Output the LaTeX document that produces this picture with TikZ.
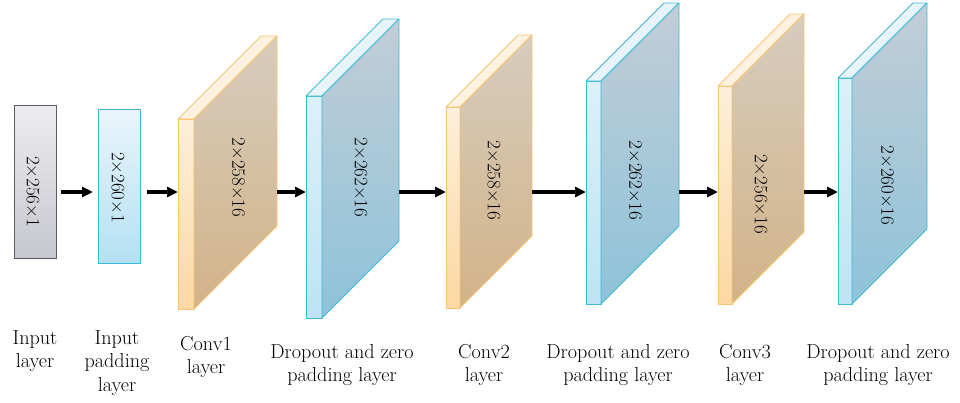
\documentclass[tikz,border=0pt]{standalone}
\usepackage{fontspec}
\usetikzlibrary{arrows.meta}
\definecolor{grayedge}{HTML}{5E5E62}
\definecolor{graytop}{HTML}{EDEDF0}
\definecolor{graybot}{HTML}{C6C6CE}
\definecolor{cyanedge}{HTML}{3CB9D3}
\definecolor{padtop}{HTML}{EAF5FB}
\definecolor{padbot}{HTML}{B4E0F2}
\definecolor{orgedge}{HTML}{F8C470}
\definecolor{orgstripT}{HTML}{FDEFDA}
\definecolor{orgstripB}{HTML}{FCD8A2}
\definecolor{orgtopface}{HTML}{FDF2E0}
\definecolor{orgsideT}{HTML}{D7CCBE}
\definecolor{orgsideB}{HTML}{D2B388}
\definecolor{bluestripT}{HTML}{DCF0F9}
\definecolor{bluestripB}{HTML}{BEE3F4}
\definecolor{bluetopface}{HTML}{E8F4FA}
\definecolor{bluesideT}{HTML}{C2CDD8}
\definecolor{bluesideB}{HTML}{8EC3D9}
\tikzset{
  conn/.style={line width=3.2pt,-{Triangle[length=11pt,width=10pt]},shorten >=0pt},
  dimtext/.style={rotate=-90,inner sep=0pt,font=\fontsize{19}{20}\selectfont},
  lbl/.style={anchor=north,inner sep=0pt,align=center,font=\fontsize{20.2}{23.5}\selectfont},
  flatbox/.style={line width=0.9pt},
}
% #1 prefix (org/blue), #2 edge colour, #3 xl, #4 xr, #5 top, #6 bottom, #7 depth, #8 name
\newcommand\slabshape[8]{%
  \path[draw=#2,line width=0.9pt,line join=round,top color=#1stripT,bottom color=#1stripB]
    (#3,#5) rectangle (#4,#6);
  \path[draw=#2,line width=0.9pt,line join=round,fill=#1topface]
    (#3,#5) -- (#4,#5) -- (#4+#7,#5-#7) -- (#3+#7,#5-#7) -- cycle;
  \path[draw=#2,line width=0.9pt,line join=round,top color=#1sideT,bottom color=#1sideB]
    (#4,#5) -- (#4+#7,#5-#7) -- (#4+#7,#6-#7) -- (#4,#6) -- cycle;
  \coordinate (#8-in) at (#3,192);
  \coordinate (#8-out) at (#4+#7,192);
}
\begin{document}
\begin{tikzpicture}[x=1pt,y=-1pt]
\useasboundingbox (0,0) rectangle (960,402);
% input layer
\path[flatbox,draw=grayedge,top color=graytop,bottom color=graybot] (14,105) rectangle (56,258);
\coordinate (in-out) at (56,192);
\node[dimtext] (tin) at (33,191.5) {2×256×1};
% input padding layer
\path[flatbox,draw=cyanedge,top color=padtop,bottom color=padbot] (98,109) rectangle (140,263);
\coordinate (pad-in) at (98,192);
\coordinate (pad-out) at (140,192);
\node[dimtext] (tpad) at (118,187.5) {2×260×1};
% slabs
\slabshape{org}{orgedge}{178}{194}{119}{309}{83}{c1}
\node[dimtext] (tc1) at (238.5,177.5) {2×258×16};
\slabshape{blue}{cyanedge}{306}{322}{96}{318}{77}{d1}
\node[dimtext] (td1) at (361,177.5) {2×262×16};
\slabshape{org}{orgedge}{446}{460}{107}{308}{72}{c2}
\node[dimtext] (tc2) at (494,180.5) {2×258×16};
\slabshape{blue}{cyanedge}{586}{601}{81}{304}{78}{d2}
\node[dimtext] (td2) at (635.5,180.5) {2×262×16};
\slabshape{org}{orgedge}{718}{732}{86}{304}{72}{c3}
\node[dimtext] (tc3) at (761,194) {2×256×16};
\slabshape{blue}{cyanedge}{838}{852}{78}{304}{75}{d3}
\node[dimtext] (td3) at (887.5,185.5) {2×260×16};
% connectors
\draw[conn] ([xshift=5pt]in-out) -- ([xshift=-5pt]pad-in);
\draw[conn] ([xshift=7pt]pad-out) -- (c1-in);
\draw[conn] (c1-out) -- (d1-in);
\draw[conn] (d1-out) -- (c2-in);
\draw[conn] (c2-out) -- (d2-in);
\draw[conn] (d2-out) -- (c3-in);
\draw[conn] (c3-out) -- (d3-in);
% labels
\node[lbl] (l1) at (35,330) {Input\\layer};
\node[lbl] (l2) at (117,330) {Input\\padding\\layer};
\node[lbl] (l3) at (206,336) {Conv1\\layer};
\node[lbl] (l4) at (342,344) {Dropout and zero\\padding layer};
\node[lbl] (l5) at (484,344) {Conv2\\layer};
\node[lbl] (l6) at (618,344) {Dropout and zero\\padding layer};
\node[lbl] (l7) at (745,344) {Conv3\\layer};
\node[lbl] (l8) at (878,344) {Dropout and zero\\padding layer};
\end{tikzpicture}
\end{document}
